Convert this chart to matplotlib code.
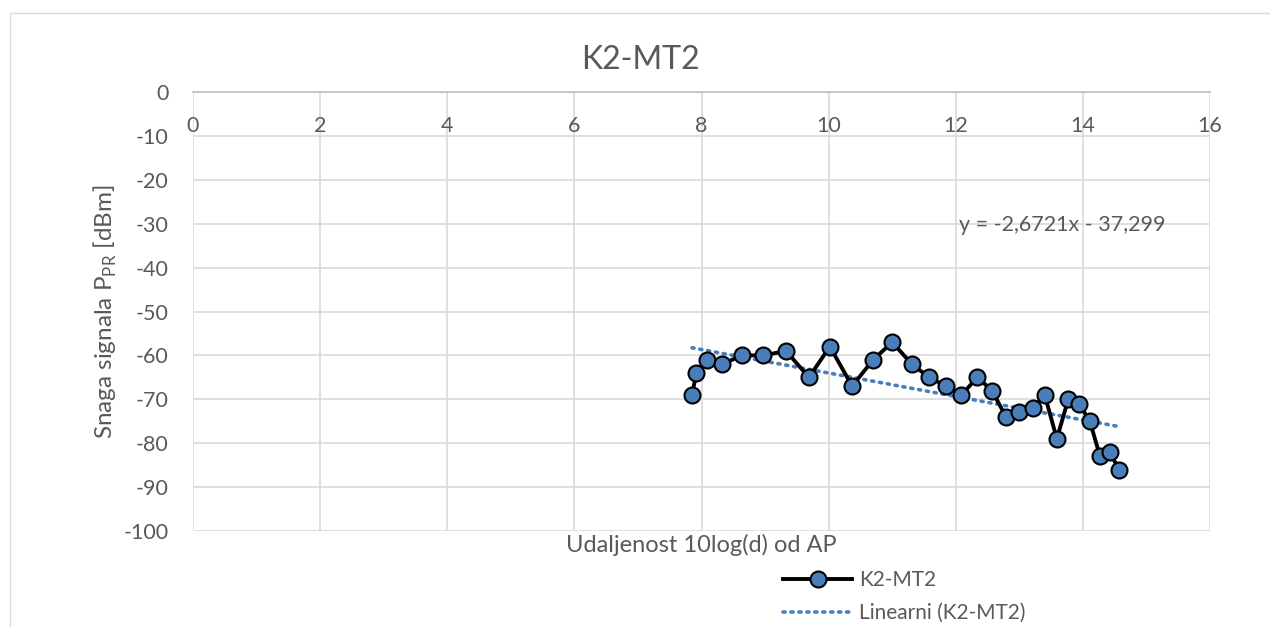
# K2-MT2 signal strength vs. log distance
import matplotlib.pyplot as plt
import matplotlib.patches as patches
import numpy as np

# data
udaljenost = [7.85, 7.92, 8.09, 8.32, 8.64, 8.97, 9.33, 9.69, 10.02, 10.37,
              10.70, 11.00, 11.31, 11.58, 11.85, 12.09, 12.34, 12.57, 12.79,
              13.00, 13.21, 13.40, 13.59, 13.77, 13.94, 14.11, 14.27, 14.42,
              14.57]
snaga = [-69, -64, -61, -62, -60, -60, -59, -65, -58, -67,
         -61, -57, -62, -65, -67, -69, -65, -68, -74,
         -73, -72, -69, -79, -70, -71, -75, -83, -82,
         -86]
x_ticks = [0, 2, 4, 6, 8, 10, 12, 14, 16]
y_ticks = [0, -10, -20, -30, -40, -50, -60, -70, -80, -90, -100]

txt = '#595959'
grid = '#d9d9d9'
blue = '#4a7ebb'

plt.rcParams['font.family'] = ['Lato', 'DejaVu Sans']
plt.rcParams['axes.unicode_minus'] = False

W, H = 1270, 627
fig = plt.figure(figsize=(W / 100, H / 100), dpi=100)
ax = fig.add_axes([193 / W, 1 - 531 / H, (1210 - 193) / W, (531 - 92) / H])

# chart area border
fig.patches.append(patches.Rectangle((10 / W, -0.1), 1.2, 1 - 13 / H + 0.1,
                                     transform=fig.transFigure, fill=False,
                                     edgecolor=grid, linewidth=1))

ax.plot(udaljenost, snaga, color='black', linewidth=2.8, marker='o',
        markersize=11.5, markerfacecolor=blue, markeredgecolor='black',
        markeredgewidth=1.5, label='K2-MT2', zorder=3)

# linear trend
k, n = np.polyfit(udaljenost, snaga, 1)
xt = np.array([min(udaljenost), max(udaljenost)])
ax.plot(xt, k * xt + n, color=blue, linestyle=(0, (0.6, 1.6)), linewidth=2.6,
        dash_capstyle='round', label='Linearni (K2-MT2)', zorder=2)

ax.text(12.05, -30.3, 'y = -2,6721x - 37,299', color=txt, fontsize=15.5,
        ha='left', va='center')

ax.set_xlim(0, 16)
ax.set_ylim(-100, 0)
ax.set_xticks(x_ticks)
ax.set_yticks(y_ticks)
ax.grid(True, color=grid, linewidth=1.2)
ax.set_axisbelow(True)
for s in ['left', 'right', 'bottom']:
    ax.spines[s].set_visible(False)
ax.spines['top'].set_color('#bfbfbf')
ax.spines['top'].set_linewidth(1.2)

ax.tick_params(axis='x', top=False, bottom=False, labeltop=True,
               labelbottom=False, pad=-35, labelsize=15.5, labelcolor=txt)
ax.tick_params(axis='y', left=False, pad=14, labelsize=15.5, labelcolor=txt)

ax.set_xlabel('Udaljenost 10log(d) od AP', fontsize=17, color=txt,
              labelpad=2)
ax.set_ylabel('Snaga signala P$_{\\mathregular{PR}}$ [dBm]', fontsize=17.5,
              color=txt, labelpad=3)

fig.text(640 / W, 1 - 60 / H, 'K2-MT2', fontsize=23, color=txt,
         ha='center', va='center')

fig.legend(loc='upper left', bbox_to_anchor=(775 / W, 1 - 562 / H),
           frameon=False, fontsize=15, labelcolor=txt, handlelength=3.3,
           labelspacing=0.6, handletextpad=0.35, borderaxespad=0)

fig.savefig('out.png', dpi=100)
